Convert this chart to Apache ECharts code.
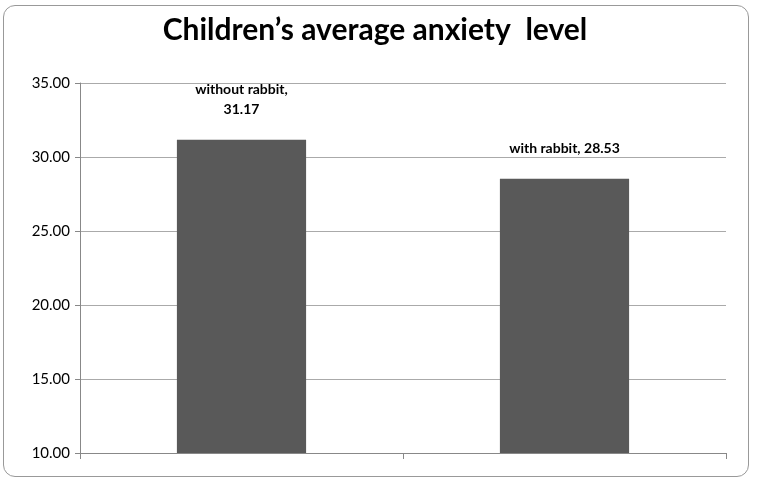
<!DOCTYPE html>
<html><head><meta charset="utf-8">
<script src="https://cdn.jsdelivr.net/npm/echarts@6/dist/echarts.min.js"></script>
<style>
html,body{margin:0;padding:0;background:#fff}
#box{position:absolute;left:3px;top:5px;width:746px;height:472px;border:1px solid #999;border-radius:12px;box-sizing:border-box}
#c{position:absolute;left:0;top:0;width:757px;height:481px}
</style></head>
<body><div id="box"></div><div id="c"></div>
<script>
var categories = ['without rabbit', 'with rabbit'];
var values = [31.17, 28.53];
var labelTexts = ['without rabbit,\n31.17', 'with rabbit, 28.53'];

var chart = echarts.init(document.getElementById('c'));
chart.setOption({
    animation: false,
    title: {
        text: 'Children\u2019s average anxiety  level',
        left: 370, top: 10, textAlign: 'center',
        textStyle: {fontFamily: 'Lato', fontWeight: 'bold', fontSize: 30, color: '#000'}
    },
    grid: {left: 80, right: 31, top: 83, bottom: 28},
    xAxis: {
        type: 'category',
        data: categories,
        axisLine: {lineStyle: {color: '#888'}},
        axisTick: {show: true, length: 6, lineStyle: {color: '#888'}},
        axisLabel: {show: false}
    },
    yAxis: {
        type: 'value', min: 10, max: 35, interval: 5,
        axisLine: {show: true, lineStyle: {color: '#888'}},
        axisTick: {show: true, length: 5, lineStyle: {color: '#888'}},
        splitLine: {lineStyle: {color: '#aaa'}},
        axisLabel: {
            formatter: function (v) { return v.toFixed(2); },
            fontFamily: 'Lato', fontSize: 15, color: '#000', margin: 10
        }
    },
    series: [{
        type: 'bar',
        barWidth: '40%',
        itemStyle: {color: '#595959'},
        data: values,
        label: {
            show: true, position: 'top', distance: 20,
            fontFamily: 'Lato', fontWeight: 'bold', fontSize: 14, color: '#000',
            lineHeight: 20,
            formatter: function (p) { return labelTexts[p.dataIndex]; }
        }
    }]
});
</script></body></html>
